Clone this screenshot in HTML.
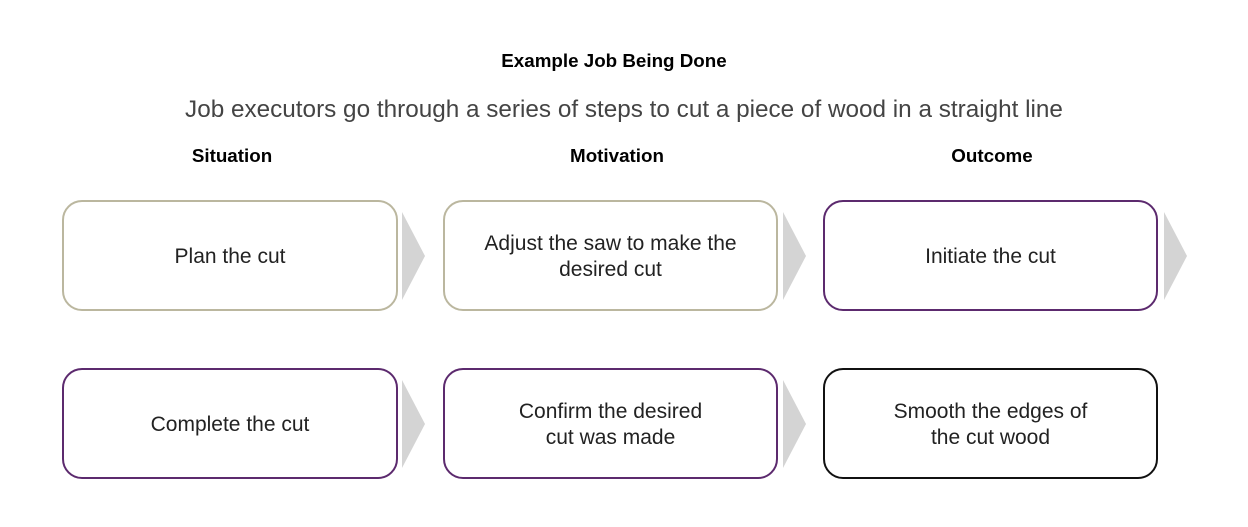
<!DOCTYPE html>
<html><head><style>
body{margin:0;width:1248px;height:527px;background:#fff;position:relative;font-family:"Liberation Sans",sans-serif;overflow:hidden}
.t{position:absolute;text-align:center;color:#000}
.b{position:absolute;box-sizing:border-box;border-radius:20px;border:2.5px solid;display:flex;align-items:center;justify-content:center;text-align:center;font-size:21px;color:#222;line-height:26px;background:#fff;padding-top:2px}
.g{border-color:#bbb79f}.p{border-color:#5c2a6e}.k{border-color:#111}
</style></head><body>
<div class="t" style="left:0;width:1228px;top:50px;font-size:18.8px;font-weight:bold">Example Job Being Done</div>
<div class="t" style="left:0;width:1248px;top:96px;font-size:24.3px;color:#444">Job executors go through a series of steps to cut a piece of wood in a straight line</div>
<div class="t" style="left:132px;width:200px;top:145px;font-size:18.8px;font-weight:bold">Situation</div>
<div class="t" style="left:517px;width:200px;top:145px;font-size:18.8px;font-weight:bold">Motivation</div>
<div class="t" style="left:892px;width:200px;top:145px;font-size:18.8px;font-weight:bold">Outcome</div>
<svg width="1248" height="527" style="position:absolute;left:0;top:0">
<g fill="#d4d4d4">
<polygon points="402,212 425,256 402,300"/>
<polygon points="783,212 806,256 783,300"/>
<polygon points="1164,212 1187,256 1164,300"/>
<polygon points="402,380 425,424 402,468"/>
<polygon points="783,380 806,424 783,468"/>
</g></svg>
<div class="b g" style="left:62px;top:200px;width:336px;height:111px">Plan the cut</div>
<div class="b g" style="left:443px;top:200px;width:335px;height:111px">Adjust the saw to make the<br>desired cut</div>
<div class="b p" style="left:823px;top:200px;width:335px;height:111px">Initiate the cut</div>
<div class="b p" style="left:62px;top:368px;width:336px;height:111px">Complete the cut</div>
<div class="b p" style="left:443px;top:368px;width:335px;height:111px">Confirm the desired<br>cut was made</div>
<div class="b k" style="left:823px;top:368px;width:335px;height:111px">Smooth the edges of<br>the cut wood</div>
</body></html>
